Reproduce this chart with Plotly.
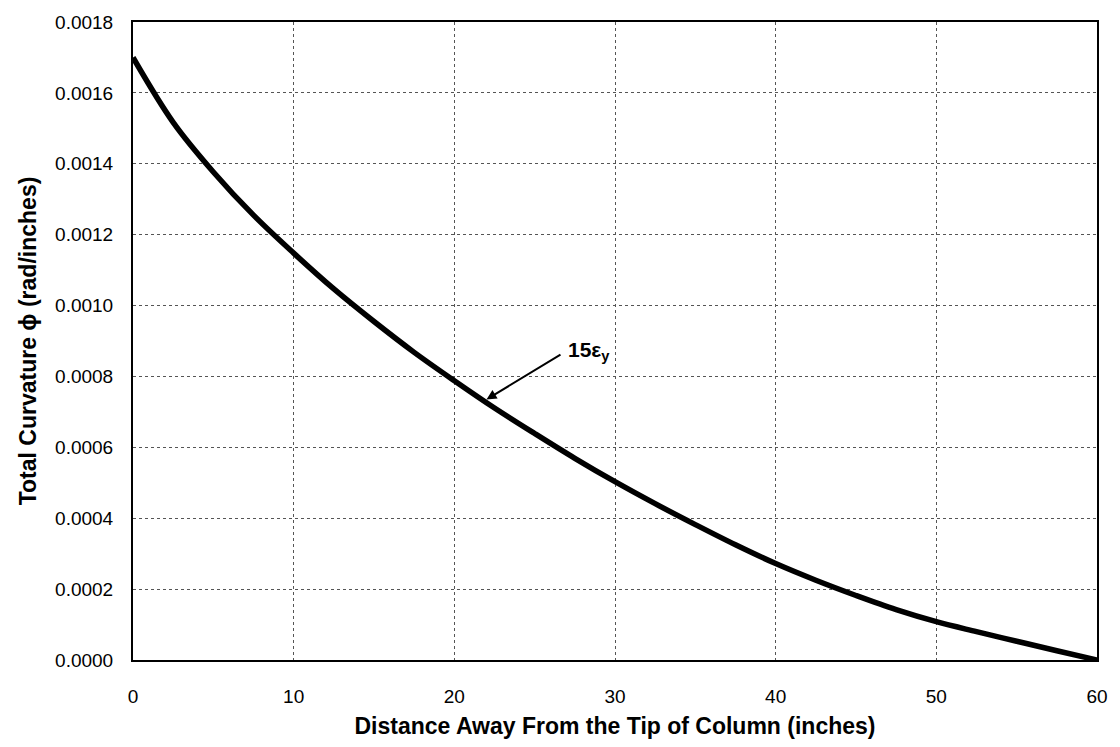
import plotly.graph_objects as go

# Distance from the column tip (inches) and total curvature (rad/inch)
distance = [0, 2.5, 5, 7.5, 10, 12.5, 15, 17.5, 20, 22.5, 25, 27.5, 30,
            32.5, 35, 37.5, 40, 42.5, 45, 47.5, 50, 52.5, 55, 57.5, 60]
curvature = [0.001700, 0.001517, 0.001377, 0.001255, 0.001148, 0.001047,
             0.000955, 0.000868, 0.000788, 0.000711, 0.000639, 0.000569,
             0.000503, 0.000441, 0.000382, 0.000325, 0.000272, 0.000225,
             0.000182, 0.000142, 0.000108, 0.000080, 0.000053, 0.000026,
             0.000000]

x_ticks = [0, 10, 20, 30, 40, 50, 60]
y_ticks = [0.0000, 0.0002, 0.0004, 0.0006, 0.0008, 0.0010, 0.0012, 0.0014,
           0.0016, 0.0018]

FONT = "Liberation Sans, Arial, sans-serif"

fig = go.Figure()
fig.add_trace(go.Scatter(
    x=distance, y=curvature, mode="lines",
    line=dict(color="black", width=5.5, shape="spline", smoothing=1.0),
    showlegend=False, hoverinfo="skip",
))

# Label with leader arrow
fig.add_annotation(
    x=22.0, y=0.000735, ax=26.7, ay=0.000864, axref="x", ayref="y",
    xref="x", yref="y", text="", showarrow=True,
    arrowhead=2, arrowsize=1, arrowwidth=2, arrowcolor="black",
)
fig.add_annotation(
    x=26.95, y=0.000872, xref="x", yref="y", xanchor="left", yanchor="middle",
    text="<b>15ε<sub>y</sub></b>", showarrow=False,
    font=dict(family=FONT, size=21, color="black"),
)

axis_common = dict(
    showline=True, linecolor="black", linewidth=2, mirror=True,
    showgrid=True, gridcolor="#555555", gridwidth=1, griddash="dot",
    zeroline=False, ticks="",
    tickfont=dict(family=FONT, size=19, color="black"),
)

fig.update_xaxes(
    range=[0, 60], tickvals=x_ticks, ticklabelstandoff=18,
    title=dict(text="<b>Distance Away From the Tip of Column (inches)</b>",
               font=dict(family=FONT, size=23, color="black"), standoff=12),
    **axis_common,
)
fig.update_yaxes(
    range=[0, 0.0018], tickvals=y_ticks, tickformat=".4f", ticklabelstandoff=14,
    title=dict(text="<b>Total Curvature ϕ (rad/inches)</b>",
               font=dict(family=FONT, size=23, color="black"), standoff=12),
    **axis_common,
)

fig.update_layout(
    width=1120, height=747,
    margin=dict(l=133, r=17, t=17, b=81),
    paper_bgcolor="white", plot_bgcolor="white",
    font=dict(family=FONT, color="black"),
)

fig.write_html("out.html")
